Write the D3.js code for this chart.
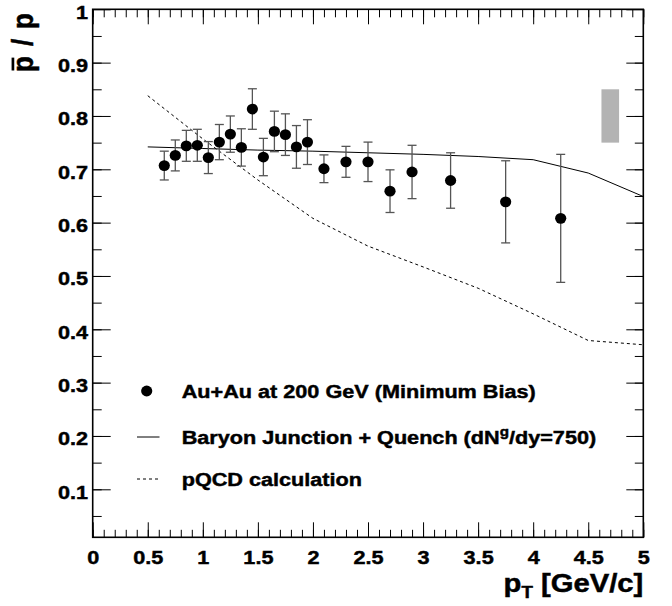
<!DOCTYPE html>
<html>
<head>
<meta charset="utf-8">
<script src="https://cdn.jsdelivr.net/npm/d3@7"></script>
<style>
  body { margin: 0; background: #fff; }
  text { font-family: "Liberation Sans", Arial, Helvetica, sans-serif; font-weight: bold; fill: #000; stroke: #000; stroke-width: 0.45px; }
</style>
</head>
<body>
<div id="chart"></div>
<script>
// measured pbar/p ratio, Au+Au 200 GeV minimum bias
const ptValues    = [0.65, 0.75, 0.85, 0.95, 1.05, 1.15, 1.25, 1.35, 1.45, 1.55, 1.65, 1.75, 1.85, 1.95, 2.1, 2.3, 2.5, 2.7, 2.9, 3.25, 3.75, 4.25];
const ratioValues = [0.707, 0.726, 0.744, 0.745, 0.722, 0.751, 0.766, 0.741, 0.813, 0.723, 0.771, 0.765, 0.742, 0.751, 0.701, 0.714, 0.714, 0.659, 0.695, 0.679, 0.639, 0.608];
const ratioErrors = [0.027, 0.029, 0.029, 0.030, 0.030, 0.033, 0.034, 0.035, 0.038, 0.035, 0.038, 0.039, 0.040, 0.042, 0.026, 0.029, 0.037, 0.040, 0.050, 0.052, 0.077, 0.120];

// model curves
const junctionPt    = [0.5, 1, 1.5, 2, 2.5, 3, 3.5, 4, 4.5, 5];
const junctionRatio = [0.742, 0.739, 0.736, 0.734, 0.731, 0.728, 0.724, 0.718, 0.693, 0.649];
const pqcdPt    = [0.5, 1, 1.5, 2, 2.5, 3, 3.5, 4, 4.5, 5];
const pqcdRatio = [0.838, 0.757, 0.680, 0.608, 0.556, 0.517, 0.477, 0.429, 0.379, 0.371];

// systematic uncertainty box
const sysPt    = [4.62, 4.78];
const sysRatio = [0.75, 0.85];

const xMajorTicks = [0, 0.5, 1, 1.5, 2, 2.5, 3, 3.5, 4, 4.5, 5];
const yMajorTicks = [0.1, 0.2, 0.3, 0.4, 0.5, 0.6, 0.7, 0.8, 0.9, 1];
const legendLabels = ["Au+Au at 200 GeV (Minimum Bias)", "Baryon Junction + Quench (dN", "pQCD calculation"];

const W = 672, H = 606;
const sx = 1.17; // picture is stretched horizontally

const svg = d3.select("#chart").append("svg")
    .attr("width", W)
    .attr("height", H);

const x = d3.scaleLinear().domain([0, 5]).range([92.7, 643.3]);
const y = d3.scaleLinear().domain([0.01, 1]).range([537.3, 9.3]);

const xMinor = d3.range(0, 5.001, 0.1).map(v => +v.toFixed(2));
const yMinor = d3.range(0.05, 1, 0.05).map(v => +v.toFixed(2));

function styleAxis(g) {
    g.select(".domain").remove();
    g.selectAll("line").attr("stroke", "#000").attr("stroke-width", 1);
}

// bottom axis
svg.append("g")
    .attr("transform", `translate(0,${y.range()[0]})`)
    .call(d3.axisBottom(x).tickValues(xMinor).tickSize(-7.5).tickFormat(""))
    .call(styleAxis);
const xAxis = svg.append("g")
    .attr("transform", `translate(0,${y.range()[0]})`)
    .call(d3.axisBottom(x).tickValues(xMajorTicks).tickSize(-15).tickPadding(14).tickFormat(d3.format("~g")))
    .call(styleAxis);
xAxis.selectAll("text")
    .attr("font-size", 18.5)
    .attr("transform", `scale(${sx},1)`);

// top axis
svg.append("g")
    .attr("transform", `translate(0,${y.range()[1]})`)
    .call(d3.axisTop(x).tickValues(xMinor).tickSize(-8).tickFormat(""))
    .call(styleAxis);
svg.append("g")
    .attr("transform", `translate(0,${y.range()[1]})`)
    .call(d3.axisTop(x).tickValues(xMajorTicks).tickSize(-15).tickFormat(""))
    .call(styleAxis);

// left axis
svg.append("g")
    .attr("transform", `translate(${x.range()[0]},0)`)
    .call(d3.axisLeft(y).tickValues(yMinor).tickSize(-9).tickFormat(""))
    .call(styleAxis);
const yAxis = svg.append("g")
    .attr("transform", `translate(${x.range()[0]},0)`)
    .call(d3.axisLeft(y).tickValues(yMajorTicks).tickSize(-18).tickPadding(4).tickFormat(d3.format("~g")))
    .call(styleAxis);
yAxis.selectAll("text")
    .attr("font-size", 18.5)
    .attr("dy", "0.48em")
    .attr("transform", `scale(${sx},1)`);

// right axis
svg.append("g")
    .attr("transform", `translate(${x.range()[1]},0)`)
    .call(d3.axisRight(y).tickValues(yMinor).tickSize(-8.5).tickFormat(""))
    .call(styleAxis);
svg.append("g")
    .attr("transform", `translate(${x.range()[1]},0)`)
    .call(d3.axisRight(y).tickValues(yMajorTicks).tickSize(-17).tickFormat(""))
    .call(styleAxis);

// frame
svg.append("rect")
    .attr("x", x.range()[0])
    .attr("y", y.range()[1])
    .attr("width", x.range()[1] - x.range()[0])
    .attr("height", y.range()[0] - y.range()[1])
    .attr("fill", "none")
    .attr("stroke", "#000")
    .attr("stroke-width", 1.6);

// systematic box
svg.append("rect")
    .attr("x", x(sysPt[0]))
    .attr("y", y(sysRatio[1]))
    .attr("width", x(sysPt[1]) - x(sysPt[0]))
    .attr("height", y(sysRatio[0]) - y(sysRatio[1]))
    .attr("fill", "#b3b3b3");

// model curves
const line = d3.line().x(d => x(d[0])).y(d => y(d[1]));
svg.append("path")
    .datum(junctionPt.map((p, i) => [p, junctionRatio[i]]))
    .attr("d", line)
    .attr("fill", "none")
    .attr("stroke", "#000")
    .attr("stroke-width", 1);
svg.append("path")
    .datum(pqcdPt.map((p, i) => [p, pqcdRatio[i]]))
    .attr("d", line)
    .attr("fill", "none")
    .attr("stroke", "#000")
    .attr("stroke-width", 1)
    .attr("stroke-dasharray", "3,3");

// data with error bars
const points = ptValues.map((p, i) => ({ pt: p, r: ratioValues[i], e: ratioErrors[i] }));
const capW = 4.5;
const errG = svg.append("g").attr("stroke", "#555").attr("stroke-width", 1.3);
errG.selectAll(".err")
    .data(points)
    .join("line")
    .attr("x1", d => x(d.pt)).attr("x2", d => x(d.pt))
    .attr("y1", d => y(d.r + d.e)).attr("y2", d => y(d.r - d.e));
errG.selectAll(".capTop")
    .data(points)
    .join("line")
    .attr("x1", d => x(d.pt) - capW).attr("x2", d => x(d.pt) + capW)
    .attr("y1", d => y(d.r + d.e)).attr("y2", d => y(d.r + d.e));
errG.selectAll(".capBot")
    .data(points)
    .join("line")
    .attr("x1", d => x(d.pt) - capW).attr("x2", d => x(d.pt) + capW)
    .attr("y1", d => y(d.r - d.e)).attr("y2", d => y(d.r - d.e));

svg.selectAll(".dot")
    .data(points)
    .join("ellipse")
    .attr("class", "dot")
    .attr("cx", d => x(d.pt))
    .attr("cy", d => y(d.r))
    .attr("rx", 5.6)
    .attr("ry", 5.4)
    .attr("fill", "#000");

// legend
const legX = 181.7;
const legRows = [391, 437, 479];
svg.append("ellipse")
    .attr("cx", 146.7).attr("cy", legRows[0])
    .attr("rx", 5.6).attr("ry", 5.4)
    .attr("fill", "#000");
svg.append("line")
    .attr("x1", 137).attr("x2", 159.5)
    .attr("y1", legRows[1]).attr("y2", legRows[1])
    .attr("stroke", "#000").attr("stroke-width", 1);
svg.append("line")
    .attr("x1", 137).attr("x2", 159.5)
    .attr("y1", legRows[2]).attr("y2", legRows[2])
    .attr("stroke", "#000").attr("stroke-width", 1)
    .attr("stroke-dasharray", "3,3");

function legendText(row) {
    return svg.append("text")
        .attr("transform", `translate(${legX},${legRows[row] + 6.5}) scale(${sx},1)`)
        .attr("font-size", 18.5);
}
legendText(0).text(legendLabels[0]);
const t2 = legendText(1);
t2.append("tspan").text(legendLabels[1]);
t2.append("tspan").attr("font-size", 13).attr("dy", -8).text("g");
t2.append("tspan").attr("dy", 8).text("/dy=750)");
legendText(2).text(legendLabels[2]);

// axis titles
const xt = svg.append("text")
    .attr("transform", `translate(${x.range()[1]},591.7) scale(${sx},1)`)
    .attr("text-anchor", "end")
    .attr("font-size", 25);
xt.append("tspan").text("p");
xt.append("tspan").attr("font-size", 16).attr("dy", 6).text("T");
xt.append("tspan").attr("dy", -6).text(" [GeV/c]");

// y title: pbar / p, rotated, with a bar over the first p
const ytG = svg.append("g")
    .attr("transform", `translate(33,13) scale(${sx},1) rotate(-90)`);
const ytFont = 26;
const yt = ytG.append("text")
    .attr("text-anchor", "end")
    .attr("font-size", ytFont)
    .attr("textLength", 59)
    .attr("lengthAdjust", "spacing")
    .attr("stroke-width", 0.6)
    .text("p / p");
const n = yt.node();
const p0 = n.getStartPositionOfChar(0).x;
const p1 = n.getEndPositionOfChar(0).x;
ytG.append("line")
    .attr("x1", p0 + 1.5).attr("x2", p1 - 1.5)
    .attr("y1", -0.66 * ytFont).attr("y2", -0.66 * ytFont)
    .attr("stroke", "#000").attr("stroke-width", 2.3);
</script>
</body>
</html>
